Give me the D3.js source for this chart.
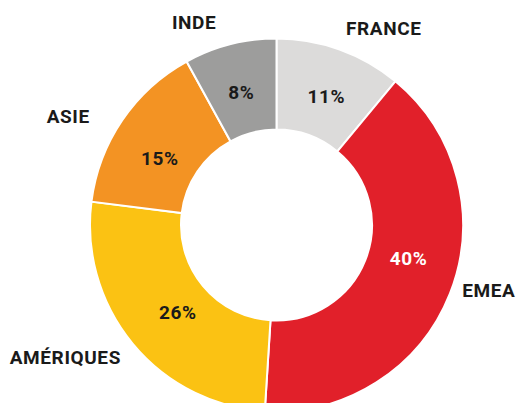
<!DOCTYPE html>
<html>
<head>
<meta charset="utf-8">
<script src="https://cdn.jsdelivr.net/npm/d3@7"></script>
<style>
  body { margin: 0; background: #fff; }
  text { font-family: Roboto, "Noto Sans", sans-serif; font-weight: 700; letter-spacing: 0.6px; }
</style>
</head>
<body>
<div id="chart"></div>
<script>
// data
var regions = ["FRANCE", "EMEA", "AMÉRIQUES", "ASIE", "INDE"];
var shares = [11, 40, 26, 15, 8];
var colors = ["#dcdbda", "#e1202a", "#fbc213", "#f39323", "#9d9d9c"];
var pctColors = ["#1a1a1a", "#ffffff", "#1a1a1a", "#1a1a1a", "#1a1a1a"];

// label nudges (px) from the computed anchor
var nameNudge = [[0, 0], [0, 0], [0, 0], [0, 0], [0, 0]];
var pctNudge = [[2, 4], [1, -19], [10, -3], [0, 12], [0, 4]];

var width = 518, height = 403;
var cx = 276.5, cy = 225, outerR = 186.5, innerR = 95.5;

var svg = d3.select("#chart")
  .append("svg")
    .attr("width", width)
    .attr("height", height)
  .append("g")
    .attr("transform", "translate(" + cx + "," + cy + ")");

var pie = d3.pie().sort(null).value(function(d) { return d; });
var arcs = pie(shares);

var arc = d3.arc().innerRadius(innerR).outerRadius(outerR);

svg.selectAll("path.slice")
  .data(arcs)
  .enter().append("path")
    .attr("class", "slice")
    .attr("d", arc)
    .attr("fill", function(d, i) { return colors[i]; })
    .attr("stroke", "#fff")
    .attr("stroke-width", 2);

// percentages
svg.selectAll("text.pct")
  .data(arcs)
  .enter().append("text")
    .attr("class", "pct")
    .attr("transform", function(d, i) {
      var c = arc.centroid(d);
      return "translate(" + (c[0] + pctNudge[i][0]) + "," + (c[1] + pctNudge[i][1]) + ")";
    })
    .attr("text-anchor", "middle")
    .attr("dy", "0.36em")
    .attr("font-size", 19)
    .attr("fill", function(d, i) { return pctColors[i]; })
    .text(function(d) { return d.data + "%"; });

// region names placed outside the ring
var nameAngles = [28.6, 107, 238, 297.6, 337.9];
var nameRadii = [224, 222, 249, 235, 219];
svg.selectAll("text.name")
  .data(regions)
  .enter().append("text")
    .attr("class", "name")
    .attr("x", function(d, i) { return nameRadii[i] * Math.sin(nameAngles[i] * Math.PI / 180) + nameNudge[i][0]; })
    .attr("y", function(d, i) { return -nameRadii[i] * Math.cos(nameAngles[i] * Math.PI / 180) + nameNudge[i][1]; })
    .attr("text-anchor", "middle")
    .attr("dy", "0.36em")
    .attr("font-size", 19)
    .attr("fill", "#1a1a1a")
    .text(function(d) { return d; });
</script>
</body>
</html>
